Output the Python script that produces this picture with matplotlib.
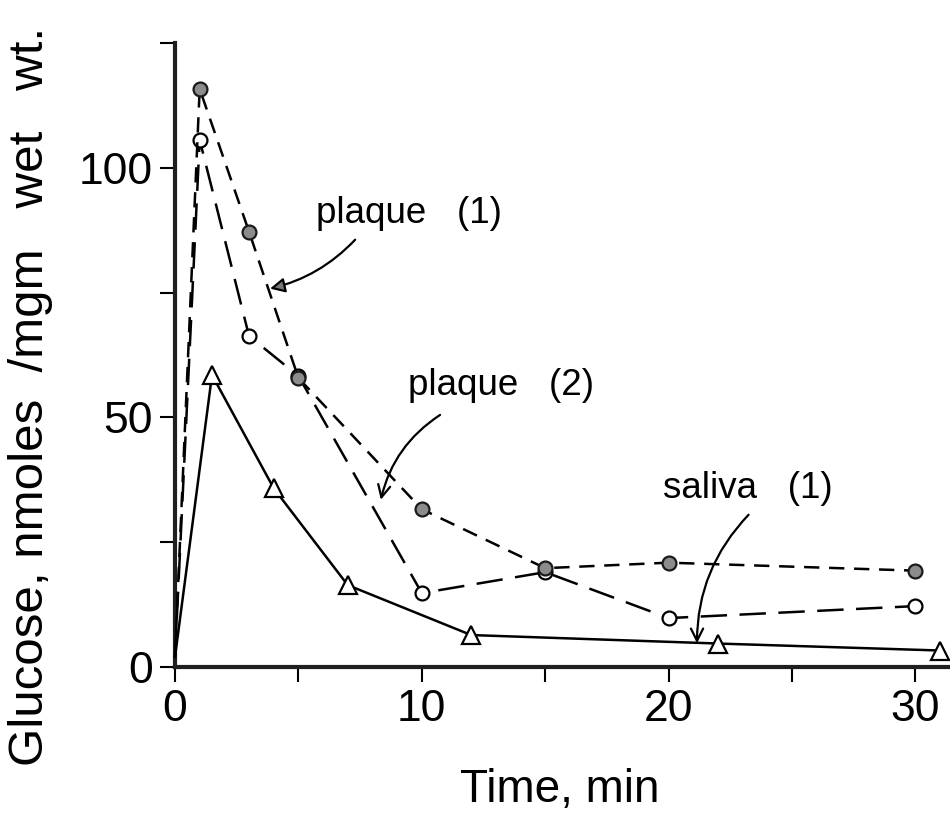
import matplotlib
matplotlib.use('Agg')
import matplotlib.pyplot as plt
from matplotlib.ticker import MultipleLocator

plt.rcParams['font.family'] = ['Liberation Sans', 'DejaVu Sans']
plt.rcParams['lines.scale_dashes'] = False

# glucose in nmoles / mgm wet wt. against time (min)
plaque1_t = [0, 1, 3, 5, 10, 15, 20, 30]
plaque1_glc = [2, 115.8, 87.2, 57.9, 31.6, 19.8, 20.9, 19.3]

plaque2_t = [0, 1, 3, 5, 10, 15, 20, 30]
plaque2_glc = [2, 105.6, 66.3, 58.3, 14.8, 19.0, 9.8, 12.2]

saliva_t = [0, 1.5, 4, 7, 12, 22, 31]
saliva_glc = [2, 58.5, 35.8, 16.4, 6.4, 4.7, 3.3]

fig = plt.figure(figsize=(9.5, 8.15), dpi=100)
ax = fig.add_axes([0.1842, 0.1816, 0.8158, 0.7656])

# saliva: solid line, open triangles
ax.plot(saliva_t, saliva_glc, color='black', lw=1.8,
        marker='^', ms=13, mfc='white', mec='black', mew=1.6,
        markevery=slice(1, None), clip_on=False, zorder=3)

# plaque (2): long dashes, open circles
ax.plot(plaque2_t, plaque2_glc, color='black', lw=1.8, dashes=(19, 9),
        marker='o', ms=10, mfc='white', mec='black', mew=1.6,
        markevery=slice(1, None), clip_on=False, zorder=4)

# plaque (1): short dashes, shaded circles
ax.plot(plaque1_t, plaque1_glc, color='black', lw=1.8, dashes=(11, 7),
        marker='o', ms=10, mfc='#8c8c8c', mec='#1a1a1a', mew=1.6,
        markevery=slice(1, None), clip_on=False, zorder=5)

ax.set_xlim(0, 31.4)
ax.set_ylim(0, 125)

for side in ['top', 'right']:
    ax.spines[side].set_visible(False)
for side in ['left', 'bottom']:
    ax.spines[side].set_linewidth(3)
    ax.spines[side].set_color('#1f1f1f')

ax.xaxis.set_major_locator(MultipleLocator(10))
ax.xaxis.set_minor_locator(MultipleLocator(5))
ax.yaxis.set_major_locator(MultipleLocator(50))
ax.yaxis.set_minor_locator(MultipleLocator(25))
ax.tick_params(which='both', direction='out', length=11, width=1.5, color='black')
ax.tick_params(axis='both', which='major', labelsize=32, pad=5)

# curve labels with curved pointers
ax.text(5.72, 89, 'plaque   (1)', fontsize=26.5, ha='left', va='baseline')
ax.annotate('', xy=(3.85, 75.8), xytext=(7.30, 85.6),
            arrowprops=dict(arrowstyle='-|>', color='black', fc='#777777', lw=1.6,
                            mutation_scale=22, shrinkA=0, shrinkB=0,
                            connectionstyle='arc3,rad=-0.15'))

ax.text(9.44, 54.5, 'plaque   (2)', fontsize=26.5, ha='left', va='baseline')
ax.annotate('', xy=(8.34, 33.5), xytext=(10.74, 50.5),
            arrowprops=dict(arrowstyle='->', color='black', lw=1.6,
                            mutation_scale=22, shrinkA=0, shrinkB=0,
                            connectionstyle='arc3,rad=0.2'))

ax.text(19.78, 33.9, 'saliva   (1)', fontsize=26.5, ha='left', va='baseline')
ax.annotate('', xy=(21.15, 4.75), xytext=(23.24, 30.5),
            arrowprops=dict(arrowstyle='->', color='black', lw=1.6,
                            mutation_scale=22, shrinkA=0, shrinkB=0,
                            connectionstyle='arc3,rad=0.2'))

fig.text(31 / 950, 1 - 766 / 815, 'Glucose, nmoles  /mgm   wet   wt.',
         rotation=90, fontsize=35.5, ha='center', va='bottom')
fig.text(0.589, 0.031, 'Time, min', fontsize=33, ha='center', va='center')

fig.savefig('out.png', dpi=100)
